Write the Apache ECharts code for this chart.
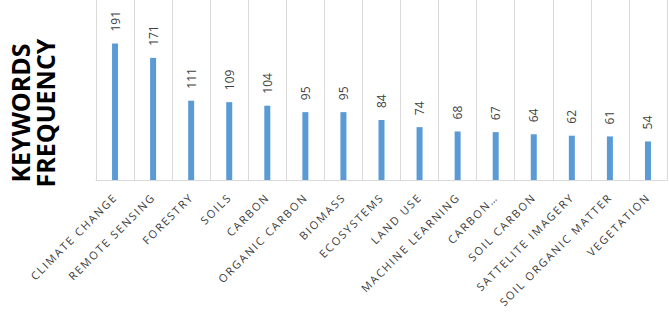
<!DOCTYPE html>
<html>
<head>
<meta charset="utf-8">
<script src="https://cdn.jsdelivr.net/npm/echarts@6/dist/echarts.min.js"></script>
<style>
  html, body { margin: 0; padding: 0; background: #fff; }
  #keywords { width: 669px; height: 320px; }
  /* the Excel-style axis labels are spaced out */
  #keywords text[style*="11px"] { letter-spacing: 1.8px; }
</style>
</head>
<body>
<div id="keywords"></div>
<script>
  const keywords = ['CLIMATE CHANGE', 'REMOTE SENSING', 'FORESTRY', 'SOILS', 'CARBON',
    'ORGANIC CARBON', 'BIOMASS', 'ECOSYSTEMS', 'LAND USE', 'MACHINE LEARNING',
    'CARBON…', 'SOIL CARBON', 'SATTELITE IMAGERY', 'SOIL ORGANIC MATTER', 'VEGETATION']
  const frequency = [191, 171, 111, 109, 104, 95, 95, 84, 74, 68, 67, 64, 62, 61, 54]
  const yTitle = 'KEYWORDS\nFREQUENCY'

  const myChart = echarts.init(document.getElementById('keywords'), null, {renderer: 'svg'})
  const option = {
    animation: false,
    grid: {left: 96, right: 2, top: 0, bottom: 140, containLabel: false, outerBoundsMode: 'none'},
    graphic: [
      {
        type: 'text',
        x: 32,
        y: 113,
        rotation: Math.PI / 2,
        style: {
          text: yTitle,
          fill: '#000',
          font: 'bold 25px "Open Sans"',
          align: 'center',
          verticalAlign: 'middle',
          lineHeight: 25
        }
      }
    ],
    xAxis: {
      type: 'category',
      data: keywords,
      axisLine: {lineStyle: {color: '#d9d9d9', width: 1}},
      axisTick: {show: false},
      splitLine: {show: true, lineStyle: {color: '#d9d9d9', width: 1}},
      axisLabel: {
        interval: 0,
        rotate: 45,
        margin: 15,
        color: '#404040',
        fontSize: 11,
        fontFamily: 'Open Sans'
      }
    },
    yAxis: {
      type: 'value',
      min: 0,
      max: 252,
      axisLabel: {show: false},
      axisLine: {show: false},
      axisTick: {show: false},
      splitLine: {show: false}
    },
    series: [
      {
        type: 'bar',
        data: frequency,
        barWidth: 6,
        itemStyle: {color: '#5b9bd5'},
        label: {
          show: true,
          position: 'top',
          rotate: 90,
          align: 'left',
          verticalAlign: 'middle',
          distance: 12,
          color: '#404040',
          fontSize: 12,
          fontFamily: 'Open Sans'
        }
      }
    ]
  }
  myChart.setOption(option)
</script>
</body>
</html>
